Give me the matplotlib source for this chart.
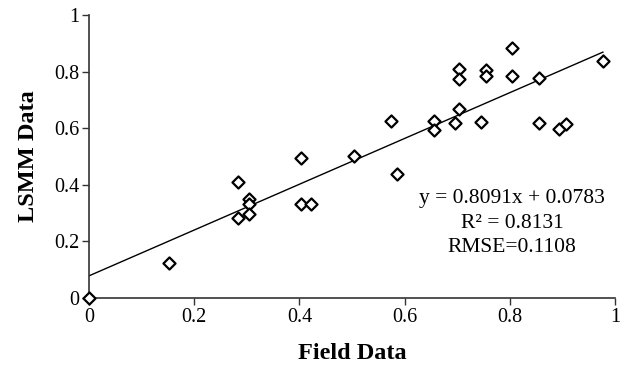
import matplotlib
matplotlib.use("Agg")
import matplotlib.pyplot as plt
import numpy as np

field = [0.0, 0.153, 0.283, 0.283, 0.304, 0.304, 0.304, 0.403, 0.403, 0.423, 0.504,
         0.574, 0.585, 0.655, 0.655, 0.695, 0.704, 0.704, 0.704, 0.745, 0.754, 0.754,
         0.804, 0.804, 0.855, 0.855, 0.894, 0.906, 0.977]
lsmm = [0.0, 0.124, 0.41, 0.282, 0.351, 0.332, 0.298, 0.495, 0.332, 0.332, 0.502,
        0.627, 0.439, 0.627, 0.594, 0.619, 0.669, 0.808, 0.774, 0.623, 0.806, 0.786,
        0.882, 0.786, 0.777, 0.617, 0.597, 0.615, 0.837]
slope = 0.8091
intercept = 0.0783
ticks = [0, 0.2, 0.4, 0.6, 0.8, 1]
tick_labels = ["0", "0.2", "0.4", "0.6", "0.8", "1"]

serif = ["Liberation Serif", "DejaVu Serif"]

fig = plt.figure(figsize=(6.3, 3.65), dpi=100)
ax = fig.add_axes([89/630, 1-298/365, (615-89)/630, (298-15)/365])

ax.scatter(field, lsmm, marker="D", s=38, facecolors="white", edgecolors="black",
           linewidths=1.6, clip_on=False, zorder=3)
xl = np.array([0, max(field)])
ax.plot(xl, slope*xl + intercept, color="black", lw=1.0, zorder=2)

ax.set_xlim(0, 1)
ax.set_ylim(0, 1)
ax.set_xticks(ticks)
ax.set_yticks(ticks)
ax.set_xticklabels(tick_labels, family=serif, fontsize=14.5)
ax.set_yticklabels(tick_labels, family=serif, fontsize=14.5)
ax.tick_params(direction="out", length=5, width=1, color="#333333", pad=2)
for s in ["top", "right"]:
    ax.spines[s].set_visible(False)
for s in ["left", "bottom"]:
    ax.spines[s].set_linewidth(1.2)
    ax.spines[s].set_color("#333333")

ax.set_xlabel("Field Data", family=serif, fontsize=17.5, fontweight="bold", labelpad=12)
ax.set_ylabel("LSMM Data", family=serif, fontsize=17.5, fontweight="bold", labelpad=11)

ax.text(512/630, 1-198/365, "y = 0.8091x + 0.0783", transform=fig.transFigure,
        ha="center", va="center", family=serif, fontsize=15.5)
ax.text(512/630, 1-223/365, "R² = 0.8131", transform=fig.transFigure,
        ha="center", va="center", family=serif, fontsize=15.5)
ax.text(512/630, 1-248/365, "RMSE=0.1108", transform=fig.transFigure,
        ha="center", va="center", family=serif, fontsize=15.5)

fig.savefig("out.png", dpi=100)
